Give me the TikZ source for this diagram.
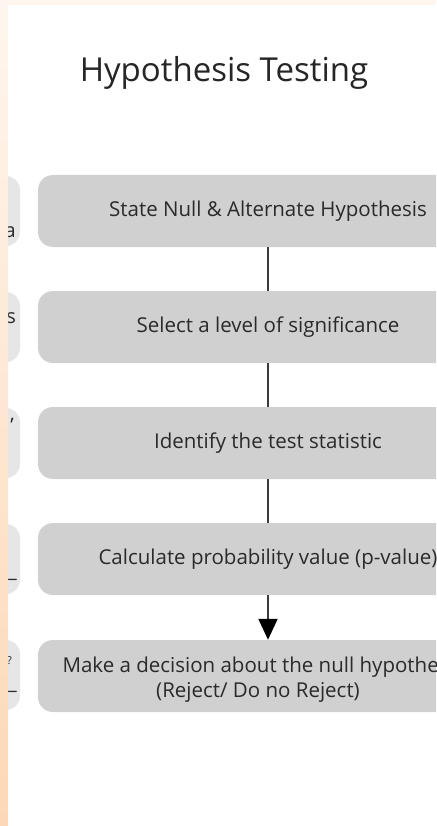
\documentclass[tikz,border=0pt]{standalone}
\usepackage{fontspec}
\setmainfont{Open Sans}
\usetikzlibrary{arrows.meta}
\definecolor{boxgray}{HTML}{D0D0D0}
\definecolor{sidegray}{HTML}{E6E6E6}
\definecolor{peachtop}{HTML}{FEF6EE}
\definecolor{peachbot}{HTML}{FCD8B6}
\definecolor{txt}{HTML}{2A2A2A}
\definecolor{linecol}{HTML}{3A3A3A}
\begin{document}
\begin{tikzpicture}[x=1pt,y=-1pt,
  stepbox/.style={fill=boxgray, rounded corners=15pt, minimum width=460pt, minimum height=72pt,
    inner sep=0pt, text=txt, font=\fontsize{20.5}{25}\selectfont, align=center},
  steptext/.style={inner sep=0pt, text=txt, font=\fontsize{20.5}{25}\selectfont, align=center},
  sidebox/.style={fill=sidegray, rounded corners=14pt, minimum width=80pt, minimum height=70pt, inner sep=0pt},
  frag/.style={text=txt, font=\fontsize{20}{22}\selectfont, inner sep=0pt},
  conn/.style={draw=linecol, line width=2pt},
  arr/.style={conn, -{Triangle[length=21pt,width=19pt,color=black]}}
]
\useasboundingbox (0,0) rectangle (436,826);
\clip (0,0) rectangle (436,826);
\fill[white] (0,0) rectangle (436,826);

% partial boxes at the left edge
\node[sidebox] (s1) at (-20,211) {};
\node[sidebox] (s2) at (-20,327) {};
\node[sidebox] (s3) at (-20,443) {};
\node[sidebox] (s4) at (-20,559) {};
\node[sidebox] (s5) at (-20,675) {};
\node[frag, anchor=base east] (f1) at (16,237) {a};
\node[frag, anchor=base east] (f2) at (16,323) {s};
\node[frag, anchor=base east] (f3) at (14,432) {'};
\node[frag, anchor=base east] (f4) at (17,577) {\_};
\node[frag, anchor=base east, font=\fontsize{11}{12}\selectfont] (f5) at (12,664) {?};
\node[frag, anchor=base east] (f6) at (17,689) {\_};

% peach frame
\fill[peachtop] (0,0) rectangle (436,5);
\shade[top color=peachtop, bottom color=peachbot] (0,0) rectangle (8,826);

% title
\node[text=black!85, font=\fontsize{33}{38}\selectfont, anchor=base] (title) at (224,82) {Hypothesis Testing};

% main steps
\node[stepbox] (b1) at (268,211) {State Null \& Alternate Hypothesis};
\node[stepbox] (b2) at (268,327) {Select a level of significance};
\node[stepbox] (b3) at (268,443) {Identify the test statistic};
\node[stepbox] (b4) at (268,559) {Calculate probability value (p-value)};
\node[stepbox] (b5) at (268,676) {};
\node[steptext, anchor=base] (b5a) at (263,672) {Make a decision about the null hypothesis};
\node[steptext, anchor=base] (b5b) at (258,697) {(Reject/ Do no Reject)};

\draw[conn] (b1.south) -- (b2.north);
\draw[conn] (b2.south) -- (b3.north);
\draw[conn] (b3.south) -- (b4.north);
\draw[arr] (b4.south) -- (b5.north);
\end{tikzpicture}
\end{document}
